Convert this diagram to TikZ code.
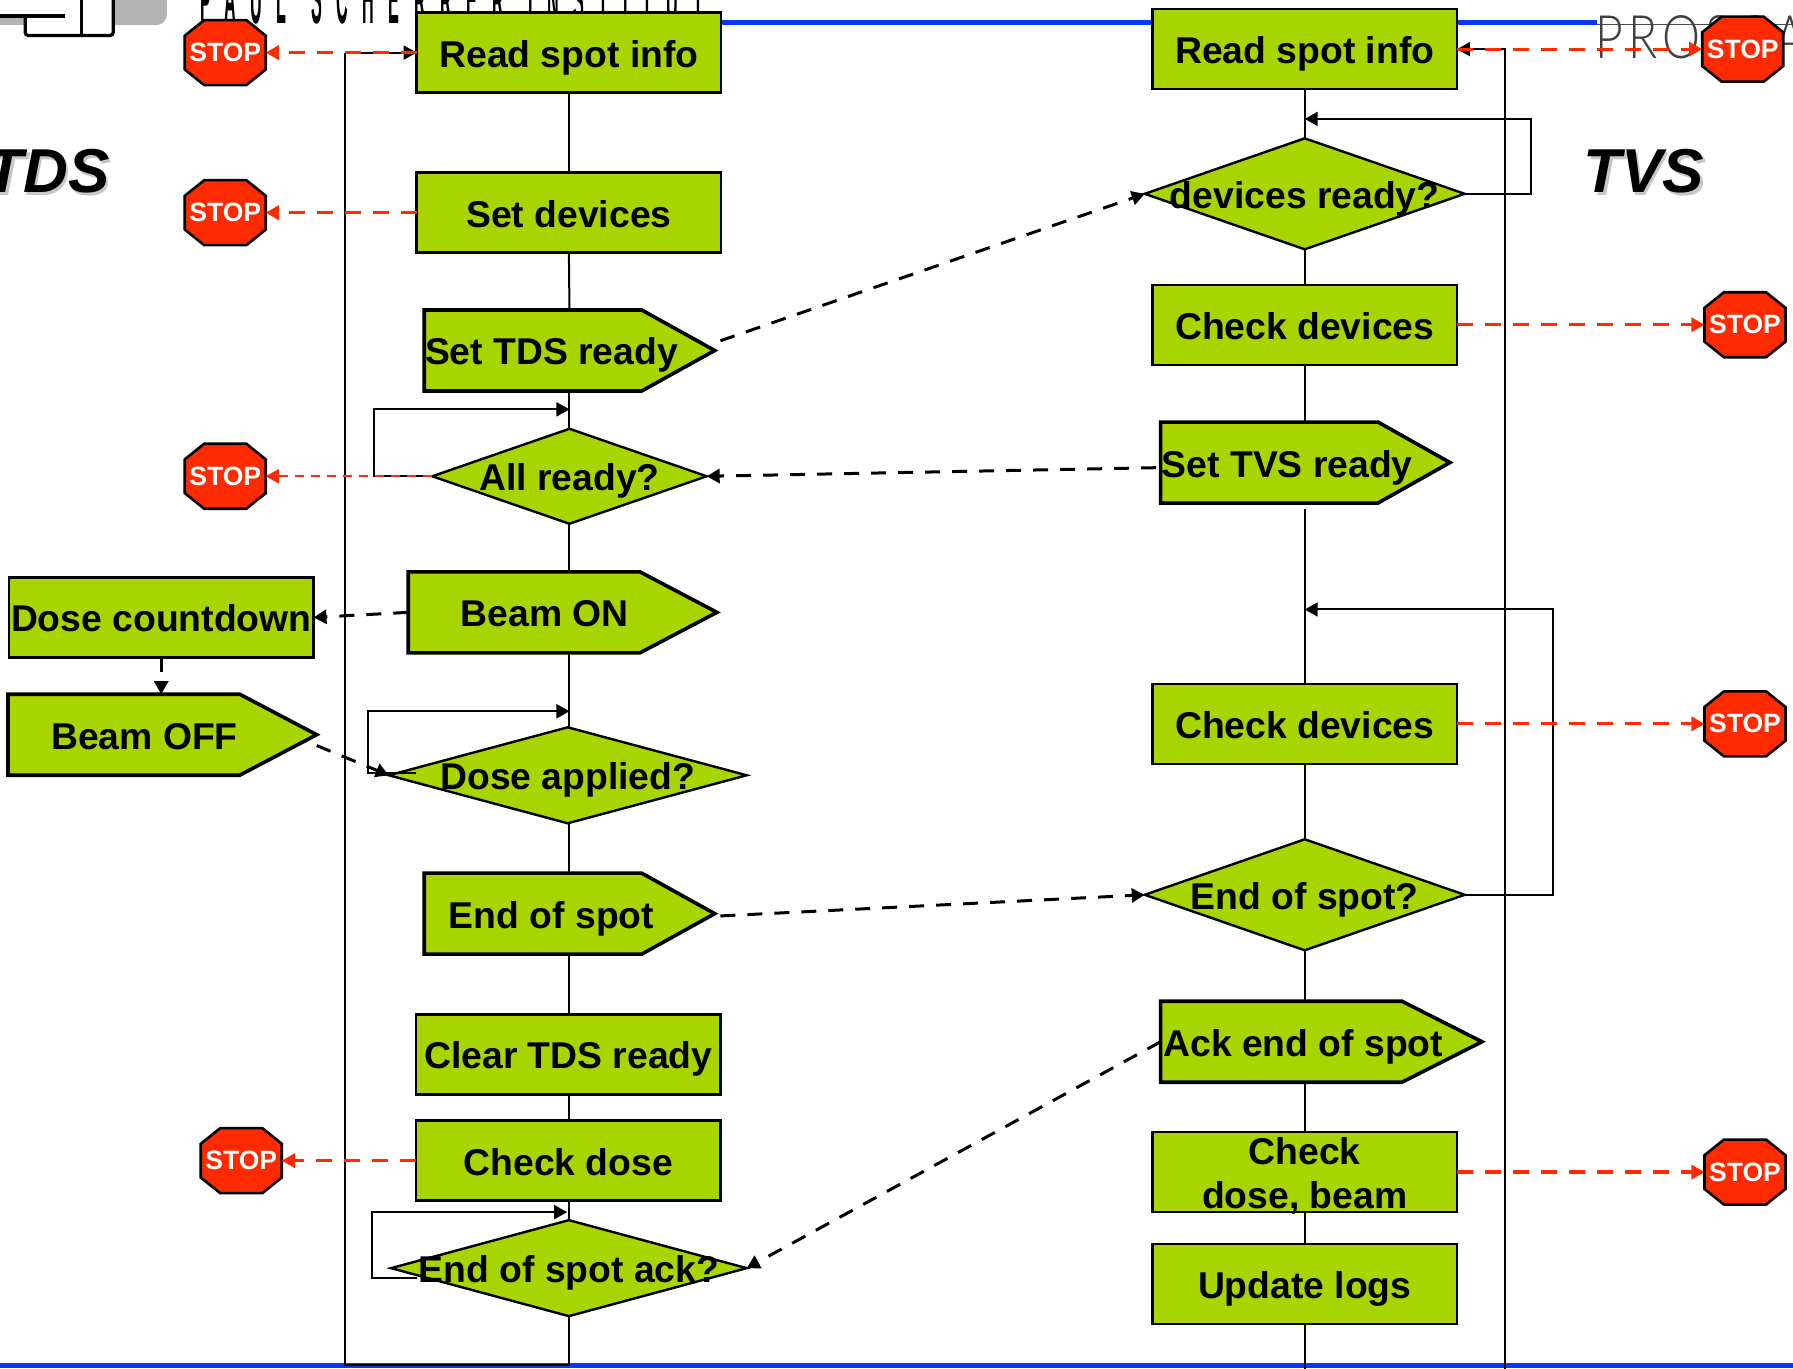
\documentclass[tikz,border=0pt]{standalone}
\usepackage{fontspec}
\setmainfont{Liberation Sans}
\newfontfamily\thinfont{Lato Light}
\usetikzlibrary{arrows.meta}
\definecolor{boxgreen}{RGB}{168,212,0}
\definecolor{stopred}{RGB}{255,42,0}
\definecolor{lineblue}{RGB}{8,56,255}
\definecolor{logogray}{RGB}{179,179,179}
\makeatletter
\pgfkeys{/pgf/pent tip/.initial=74pt}
\pgfdeclareshape{stopoct}{
  \inheritsavedanchors[from=rectangle]
  \inheritanchorborder[from=rectangle]
  \inheritanchor[from=rectangle]{center}
  \inheritanchor[from=rectangle]{north}
  \inheritanchor[from=rectangle]{south}
  \inheritanchor[from=rectangle]{east}
  \inheritanchor[from=rectangle]{west}
  \backgroundpath{
    \southwest \pgf@xa=\pgf@x \pgf@ya=\pgf@y
    \northeast \pgf@xb=\pgf@x \pgf@yb=\pgf@y
    \pgf@xc=\pgf@xb \advance\pgf@xc by -\pgf@xa \pgf@xc=.24\pgf@xc
    \pgf@yc=\pgf@yb \advance\pgf@yc by -\pgf@ya \pgf@yc=.24\pgf@yc
    \pgf@xa=\pgf@xa \pgf@ya=\pgf@ya
    \pgfpathmoveto{\pgfpoint{\pgf@xa+\pgf@xc}{\pgf@ya}}
    \pgfpathlineto{\pgfpoint{\pgf@xb-\pgf@xc}{\pgf@ya}}
    \pgfpathlineto{\pgfpoint{\pgf@xb}{\pgf@ya+\pgf@yc}}
    \pgfpathlineto{\pgfpoint{\pgf@xb}{\pgf@yb-\pgf@yc}}
    \pgfpathlineto{\pgfpoint{\pgf@xb-\pgf@xc}{\pgf@yb}}
    \pgfpathlineto{\pgfpoint{\pgf@xa+\pgf@xc}{\pgf@yb}}
    \pgfpathlineto{\pgfpoint{\pgf@xa}{\pgf@yb-\pgf@yc}}
    \pgfpathlineto{\pgfpoint{\pgf@xa}{\pgf@ya+\pgf@yc}}
    \pgfpathclose
  }
}
\pgfdeclareshape{decdiamond}{
  \inheritsavedanchors[from=rectangle]
  \inheritanchorborder[from=rectangle]
  \inheritanchor[from=rectangle]{center}
  \inheritanchor[from=rectangle]{north}
  \inheritanchor[from=rectangle]{south}
  \inheritanchor[from=rectangle]{east}
  \inheritanchor[from=rectangle]{west}
  \backgroundpath{
    \southwest \pgf@xa=\pgf@x \pgf@ya=\pgf@y
    \northeast \pgf@xb=\pgf@x \pgf@yb=\pgf@y
    \pgf@xc=.5\pgf@xa \advance\pgf@xc by .5\pgf@xb
    \pgf@yc=.5\pgf@ya \advance\pgf@yc by .5\pgf@yb
    \pgfpathmoveto{\pgfqpoint{\pgf@xa}{\pgf@yc}}
    \pgfpathlineto{\pgfqpoint{\pgf@xc}{\pgf@yb}}
    \pgfpathlineto{\pgfqpoint{\pgf@xb}{\pgf@yc}}
    \pgfpathlineto{\pgfqpoint{\pgf@xc}{\pgf@ya}}
    \pgfpathclose
  }
}
\pgfdeclareshape{pentarrow}{
  \inheritsavedanchors[from=rectangle]
  \inheritanchorborder[from=rectangle]
  \inheritanchor[from=rectangle]{center}
  \inheritanchor[from=rectangle]{north}
  \inheritanchor[from=rectangle]{south}
  \inheritanchor[from=rectangle]{east}
  \inheritanchor[from=rectangle]{west}
  \backgroundpath{
    \southwest \pgf@xa=\pgf@x \pgf@ya=\pgf@y
    \northeast \pgf@xb=\pgf@x \pgf@yb=\pgf@y
    \pgf@yc=.5\pgf@ya \advance\pgf@yc by .5\pgf@yb
    \pgf@xc=\pgf@xb \pgfmathsetlength{\pgf@xc}{\pgf@xc-\pgfkeysvalueof{/pgf/pent tip}}
    \pgfpathmoveto{\pgfqpoint{\pgf@xa}{\pgf@ya}}
    \pgfpathlineto{\pgfqpoint{\pgf@xa}{\pgf@yb}}
    \pgfpathlineto{\pgfqpoint{\pgf@xc}{\pgf@yb}}
    \pgfpathlineto{\pgfqpoint{\pgf@xb}{\pgf@yc}}
    \pgfpathlineto{\pgfqpoint{\pgf@xc}{\pgf@ya}}
    \pgfpathclose
  }
}
\makeatother
\newcommand{\penttext}[1]{\makebox[0pt]{\hspace*{-36pt}#1}}
\tikzset{
  flowtext/.style={font=\fontsize{37.3}{44}\selectfont\bfseries,inner sep=0pt,outer sep=0pt,fill=boxgreen,draw=black,text=black,text height=37pt,text depth=8pt},
  procbox/.style={flowtext,rectangle,line width=2.4pt,minimum width=304.5pt,minimum height=80pt},
  decision/.style={flowtext,shape=decdiamond,line width=2.4pt},
  signalbox/.style={flowtext,shape=pentarrow,line width=3.6pt,minimum height=81pt},
  stopsign/.style={shape=stopoct,fill=stopred,draw=black,line width=2.6pt,inner sep=0pt,outer sep=0pt,
    minimum width=81pt,minimum height=65pt,text=white,font=\fontsize{26.5}{30}\selectfont\bfseries},
  flow/.style={draw=black,line width=2pt},
  flowarrow/.style={flow,-{Triangle[length=13pt,width=14pt]}},
  msg/.style={draw=black,line width=3pt,dash pattern=on 15pt off 12pt,-{Triangle[length=13pt,width=14pt]}},
  alarm/.style={draw=stopred,line width=3.2pt,dash pattern=on 16pt off 12pt,-{Triangle[length=13pt,width=14pt]}},
  alarmthin/.style={draw=stopred,line width=2pt,dash pattern=on 9pt off 7pt,-{Triangle[length=13pt,width=14pt]}},
  blueline/.style={draw=lineblue,line width=5pt},
  logoline/.style={draw=black,line width=3.2pt,rounded corners=3pt},
  titletext/.style={font=\fontsize{62}{70}\selectfont\bfseries\itshape,inner sep=0pt,outer sep=0pt},
}
\begin{document}
\begin{tikzpicture}[x=1.1435pt,y=-1.1435pt]
\useasboundingbox (0,0) rectangle (1568,1197);
\clip (0,0) rectangle (1568,1197);
\fill[white] (0,0) rectangle (1568,1197);

% header logos
\fill[logogray] (99,-5) -- (146,-5) [rounded corners=11pt] -- (146,22) [sharp corners] -- (99,22) -- cycle;
\fill[logogray] (0,16) rectangle (22,22);
\coordinate (lgA) at (0,14);
\coordinate (lgB) at (57,14);
\coordinate (lgC) at (22,14);
\coordinate (lgD) at (22,31);
\coordinate (lgE) at (99,31);
\coordinate (lgF) at (99,-5);
\coordinate (lgG) at (71,-5);
\coordinate (lgH) at (71,31);
\draw[logoline] (lgA) -- (lgB);
\draw[logoline] (lgC) -- (lgD) -- (lgE) -- (lgF);
\draw[logoline] (lgG) -- (lgH);
\node[anchor=south west,inner sep=0pt,outer sep=0pt] (psilogo) at (175,21)
  {\resizebox{503pt}{50pt}{\addfontfeature{LetterSpace=90}\bfseries\spaceskip=1.5em PAUL SCHERRER INSTITUT}};
\coordinate (prosA) at (1397,21);
\coordinate (prosB) at (1568,21);
\draw[draw=black!70,line width=.9pt] (prosA) -- (prosB);
\node[anchor=base west,inner sep=0pt,outer sep=0pt,text=black!75] (proscan) at (1395,51)
  {\scalebox{.8}[1]{\fontsize{60}{70}\thinfont\addfontfeature{LetterSpace=11}PROSCAN}};

% swimlane titles
\node[titletext,text=black!22,anchor=base east] (tdsshadow) at (98,171) {TDS};
\node[titletext,anchor=base east] (tds) at (96,168) {TDS};
\node[titletext,text=black!22,anchor=base west] (tvsshadow) at (1387,171) {TVS};
\node[titletext,anchor=base west] (tvs) at (1385,168) {TVS};

% blue rails
\coordinate (blueTa) at (631,20);
\coordinate (blueTb) at (1397,20);
\coordinate (blueBa) at (0,1194);
\coordinate (blueBb) at (1568,1194);
\draw[blueline] (blueTa) -- (blueTb);
\draw[blueline] (blueBa) -- (blueBb);

% TDS column
\node[procbox] (lread) at (497.5,46) {Read spot info};
\node[procbox] (lset) at (497.5,186) {Set devices};
\node[signalbox,minimum width=290.5pt,/pgf/pent tip=73pt] (lsettds) at (498,306.5) {\penttext{Set TDS ready}};
\node[decision,minimum width=274.4pt,minimum height=95pt] (lall) at (498,416.5) {All ready?};
\node[signalbox,minimum width=308.7pt,/pgf/pent tip=77pt] (lbeam) at (492,535.5) {\penttext{Beam ON}};
\node[procbox] (ldc) at (141,540) {Dose countdown};
\node[signalbox,minimum width=308.7pt,/pgf/pent tip=77pt] (lbo) at (142,642.5) {\penttext{Beam OFF}};
\node[decision,minimum width=358pt,minimum height=96pt] (ldose) at (496.5,678) {Dose applied?};
\node[signalbox,minimum width=290.5pt,/pgf/pent tip=73pt] (lend) at (498,799) {\penttext{End of spot}};
\node[procbox] (lclear) at (497,922) {Clear TDS ready};
\node[procbox] (lcheck) at (497,1015) {Check dose};
\node[decision,minimum width=355.6pt,minimum height=96pt] (lack) at (497.5,1109) {End of spot ack?};

% TVS column
\node[procbox] (rread) at (1141,43) {Read spot info};
\node[decision,minimum width=320pt,minimum height=111pt] (rdev) at (1141,169.5) {devices ready?};
\node[procbox] (rchk1) at (1141,284) {Check devices};
\node[signalbox,minimum width=289.3pt,/pgf/pent tip=72pt] (rtvs) at (1141.5,404.5) {\penttext{Set TVS ready}};
\node[procbox] (rchk2) at (1141,633) {Check devices};
\node[decision,minimum width=320pt,minimum height=111pt] (rend) at (1141,782.5) {End of spot?};
\node[signalbox,minimum width=321.3pt,/pgf/pent tip=80pt] (rackn) at (1155.5,911) {\penttext{Ack end of spot}};
\node[procbox] (rcd) at (1141,1025) {\makebox[0pt]{\raisebox{22pt}{Check}}\makebox[0pt]{\raisebox{-22pt}{dose, beam}}};
\node[procbox] (rlogs) at (1141,1123) {Update logs};

% stop signs
\node[stopsign] (s1) at (197,46) {STOP};
\node[stopsign] (s2) at (197,186) {STOP};
\node[stopsign] (s3) at (197,416.5) {STOP};
\node[stopsign] (s4) at (211,1015) {STOP};
\node[stopsign] (s5) at (1524,43) {STOP};
\node[stopsign] (s6) at (1526,284) {STOP};
\node[stopsign] (s7) at (1526,633) {STOP};
\node[stopsign] (s8) at (1526,1025) {STOP};

% TDS flow
\coordinate (lbot) at (498,1193.5);
\coordinate (lret) at (302,1193.5);
\draw[flow] (lread.south) -- (lset.north);
\draw[flow] (lset.south) -- (lsettds.north);
\draw[flow] (lsettds.south) -- (lall.north);
\draw[flow] (lall.south) -- (lbeam.north -| lall.south);
\draw[flow] (lbeam.south -| lall.south) -- (ldose.north -| lall.south);
\draw[flow] (ldose.south -| lall.south) -- (lend.north);
\draw[flow] (lend.south) -- (lclear.north -| lend.south);
\draw[flow] (lclear.south -| lend.south) -- (lcheck.north -| lend.south);
\draw[flow] (lcheck.south -| lend.south) -- (lack.north -| lend.south);
\draw[flow] (lack.south -| lend.south) -- (lbot) -- (lret) -- (lret |- lread.west);
\draw[flowarrow] (lret |- lread.west) -- (lread.west);

% TVS flow
\coordinate (rgap) at (1141,445);
\coordinate (rbot) at (1141,1200);
\coordinate (rret) at (1316,1200);
\draw[flow] (rread.south) -- (rdev.north);
\draw[flow] (rdev.south) -- (rchk1.north);
\draw[flow] (rchk1.south) -- (rtvs.north -| rchk1.south);
\draw[flow] (rgap) -- (rchk2.north);
\draw[flow] (rchk2.south) -- (rend.north);
\draw[flow] (rend.south) -- (rackn.north -| rend.south);
\draw[flow] (rackn.south -| rend.south) -- (rcd.north);
\draw[flow] (rcd.south) -- (rlogs.north);
\draw[flow] (rlogs.south) -- (rbot);
\draw[flowarrow] (rret) |- (rread.east);

% wait loops
\coordinate (lc1) at (327,358);
\coordinate (lj1) at (498,358);
\draw[flowarrow] (lall.west) -| (lc1) -- (lj1);
\coordinate (ls2) at (364,676);
\coordinate (lc2) at (322,622);
\coordinate (lj2) at (498,622);
\draw[flowarrow] (ls2) -| (lc2) -- (lj2);
\coordinate (ls3) at (365,1118);
\coordinate (lc3) at (325,1060);
\coordinate (lj3) at (496,1060);
\draw[flowarrow] (ls3) -| (lc3) -- (lj3);
\coordinate (rc1) at (1339,104);
\coordinate (rj1) at (1141,104);
\draw[flowarrow] (rdev.east) -| (rc1) -- (rj1);
\coordinate (rc2) at (1358,533);
\coordinate (rj2) at (1141,533);
\draw[flowarrow] (rend.east) -| (rc2) -- (rj2);

% messages between systems
\coordinate (m1) at (630,298);
\coordinate (m2) at (1011,409);
\coordinate (m3) at (277,652);
\coordinate (m4) at (630,801);
\draw[msg] (m1) -- (rdev.west);
\draw[msg] (m2) -- (lall.east);
\draw[msg] (lbeam.west) -- (ldc.east);
\draw[msg] (ldc.south) -- (lbo.north -| ldc.south);
\draw[msg] (m3) -- (ldose.west);
\draw[msg] (m4) -- (rend.west);
\draw[msg] (rackn.west) -- (lack.east);

% alarms
\draw[alarm] (lread.west) -- (s1.east);
\draw[alarm] (lset.west) -- (s2.east);
\draw[alarmthin] (lall.west) -- (s3.east);
\draw[alarm] (lcheck.west) -- (s4.east);
\draw[alarm] (rread.east) -- (s5.west);
\draw[alarm] (rchk1.east) -- (s6.west);
\draw[alarm] (rchk2.east) -- (s7.west);
\draw[alarm] (rcd.east) -- (s8.west);
\end{tikzpicture}
\end{document}
